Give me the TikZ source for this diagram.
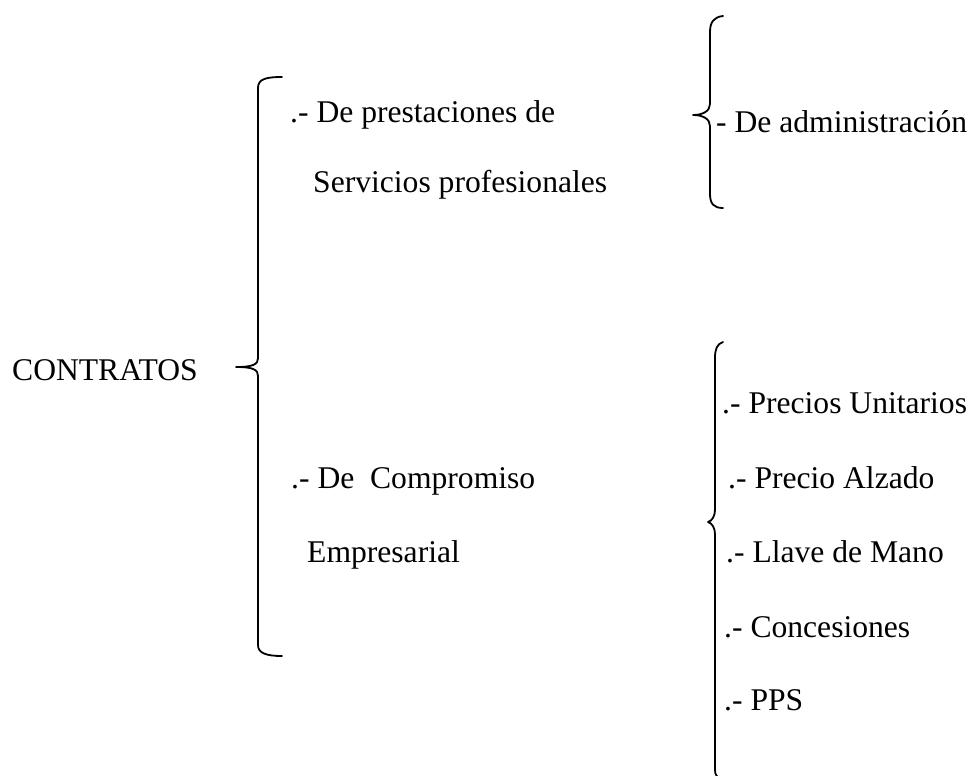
\documentclass[tikz,border=0pt]{standalone}
\usepackage{fontspec}
\setmainfont{Liberation Serif}
\begin{document}
\begin{tikzpicture}[x=1pt,y=-1pt,
  lbl/.style={anchor=base west,inner sep=0pt,font=\fontsize{31.6}{38}\selectfont},
  brace/.style={line width=1.8pt,line cap=round,line join=round}]
\useasboundingbox (0,0) rectangle (970,776);
% texts
\node[lbl] (contratos) at (12,380) {CONTRATOS};
\node[lbl] (prest) at (290,122) {.- De prestaciones de};
\node[lbl] (serv) at (313,192) {Servicios profesionales};
\node[lbl] (comp) at (291,488) {.- De~~Compromiso};
\node[lbl] (empr) at (307,562) {Empresarial};
\node[lbl] (admin) at (716,132) {- De administración};
\node[lbl] (pu) at (722,413) {.- Precios Unitarios};
\node[lbl] (pa) at (728,488) {.- Precio Alzado};
\node[lbl] (lm) at (726,562) {.- Llave de Mano};
\node[lbl] (conc) at (724,637) {.- Concesiones};
\node[lbl] (pps) at (724,710) {.- PPS};
% main brace
\draw[brace] (282,77) .. controls (266,77) and (258,79) .. (258,88) -- (258,358)
  .. controls (258,364) and (254,367) .. (236,367)
  .. controls (254,367) and (258,370) .. (258,376) -- (258,645)
  .. controls (258,653) and (266,656) .. (282,656);
% top right brace
\draw[brace] (723,16) .. controls (714,17) and (710,22) .. (710,32) -- (710,104)
  .. controls (710,111) and (703,115) .. (693,115)
  .. controls (703,115) and (710,119) .. (710,126) -- (710,194)
  .. controls (710,204) and (714,208) .. (723,208);
% bottom right brace
\draw[brace] (723,342) .. controls (717,344) and (715,349) .. (715,358) -- (715,510)
  .. controls (715,516) and (712,521) .. (708,522)
  .. controls (712,523) and (715,528) .. (715,534) -- (715,770)
  .. controls (715,775) and (717,777) .. (721,779);
\end{tikzpicture}
\end{document}
